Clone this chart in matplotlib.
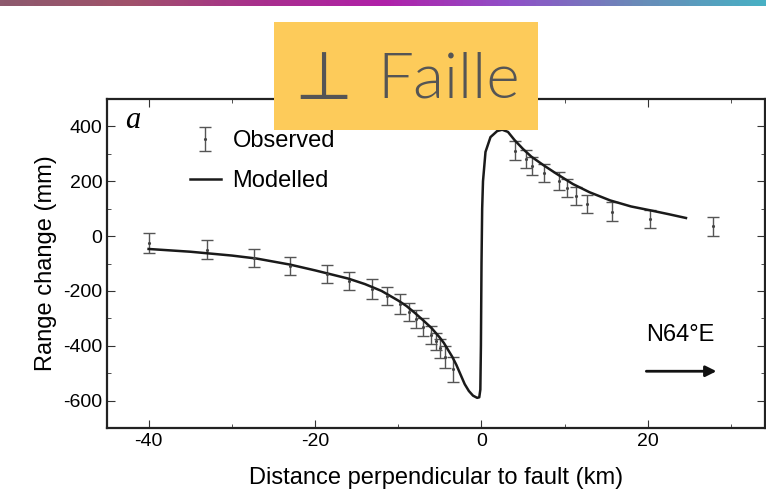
import numpy as np
import matplotlib
matplotlib.use("Agg")
import matplotlib.pyplot as plt
from matplotlib.patches import Rectangle
from matplotlib.colors import LinearSegmentedColormap
from matplotlib.ticker import MultipleLocator

plt.rcParams['font.family'] = ['Liberation Sans', 'DejaVu Sans']
plt.rcParams['axes.unicode_minus'] = False

obs_x = [-40, -33, -27.3, -23, -18.6, -15.9, -13.1, -11.3, -9.8, -8.7, -7.9, -7.0,
         -6.1, -5.5, -5.0, -4.4, -3.4,
         4.1, 5.4, 6.1, 7.5, 9.3, 10.3, 11.4, 12.7, 15.7, 20.3, 27.9]
obs_y = [-25, -50, -80, -110, -139, -164, -193, -219, -248, -277, -303, -332,
         -360, -384, -410, -440, -486,
         312, 281, 255, 230, 201, 175, 146, 117, 89, 62, 36]
obs_err = [35, 35, 33, 33, 33, 33, 35, 33, 35, 33, 33, 33,
           32, 32, 35, 40, 45,
           35, 33, 33, 33, 33, 33, 33, 33, 35, 33, 35]

mod_x = [-40, -35, -30, -27, -23, -20, -18, -16, -14, -12, -10, -9, -8, -7, -6,
         -5, -4.5, -4, -3.5, -3, -2.5, -2, -1.5, -1, -0.5, -0.25, -0.12, -0.05,
         0.02, 0.1, 0.2, 0.5, 1.1, 1.9, 2.5, 3.2, 4, 5, 6, 7.5, 9, 11, 13, 15.5,
         18, 20.3, 22.5, 24.6]
mod_y = [-47, -57, -71, -82, -104, -125, -140, -155, -175, -200, -235, -255, -280,
         -307, -335, -370, -390, -415, -440, -470, -505, -540, -565, -582, -590,
         -588, -560, -400, -100, 100, 200, 307, 361, 383, 388, 380, 350, 318, 290,
         258, 228, 190, 160, 130, 108, 94, 80, 66]

fig = plt.figure(figsize=(7.66, 4.97), dpi=100)
W, H = 766, 497

# colour strip along the top of the slide
cmap = LinearSegmentedColormap.from_list('band', ['#8d5a6e', '#a0526a', '#a8308c', '#b020a8',
                                                  '#9050c8', '#6a8ab8', '#48b0c4'])
band = fig.add_axes([0, 1 - 6 / H, 1, 6 / H])
band.imshow(np.linspace(0, 1, 200)[None, :], aspect='auto', cmap=cmap)
band.axis('off')

ax = fig.add_axes([107 / W, 1 - 428 / H, (765 - 107) / W, (428 - 99) / H])
eb = ax.errorbar(obs_x, obs_y, yerr=obs_err, fmt='.', ms=2.5, color='#444444', ecolor='#555555',
                 elinewidth=1, capsize=4, capthick=1, label='Observed')
ln, = ax.plot(mod_x, mod_y, color='#1a1a1a', lw=1.8, label='Modelled')

ax.set_xlim(-45, 34.1)
ax.set_ylim(-700, 500)
ax.xaxis.set_major_locator(MultipleLocator(20))
ax.xaxis.set_minor_locator(MultipleLocator(10))
ax.yaxis.set_major_locator(MultipleLocator(200))
ax.yaxis.set_minor_locator(MultipleLocator(100))
ax.tick_params(which='both', direction='in', top=True, right=True, labelsize=14, color='#333333')
ax.tick_params(which='major', length=6)
ax.tick_params(which='minor', length=3)
for s in ax.spines.values():
    s.set_linewidth(1.6)
    s.set_color('#222222')
ax.set_yticks([-600, -400, -200, 0, 200, 400])
ax.set_xticks([-40, -20, 0, 20])

ax.set_ylabel('Range change (mm)', fontsize=17, labelpad=4)
ax.set_xlabel('Distance perpendicular to fault (km)', fontsize=17, labelpad=12)

ax.text(0.027, 0.935, 'a', transform=ax.transAxes, fontsize=22, style='italic',
        family='Liberation Serif', ha='left', va='center')

ax.legend(handles=[eb, ln], labels=['Observed', 'Modelled'], loc='upper left',
          bbox_to_anchor=(190 / W, 1 - 130 / H), bbox_transform=fig.transFigure,
          frameon=False, fontsize=17, handlelength=1.3, handletextpad=0.5, borderpad=0,
          borderaxespad=0, labelspacing=0.78)

ax.text(23.9, -360, 'N64°E', fontsize=17, ha='center', va='center')
ax.annotate('', xy=(28.6, -493), xytext=(19.5, -493),
            arrowprops=dict(arrowstyle='-|>', color='#111111', lw=2, mutation_scale=16))

# slide title box
fig.patches.append(Rectangle((274 / W, 1 - 130 / H), (538 - 274) / W, (130 - 22) / H,
                             transform=fig.transFigure, facecolor='#fdcb5a', edgecolor='none',
                             zorder=5))
fig.text(323 / W, 1 - 99 / H, '⊥', fontsize=48, color='#555555',
         family=['DejaVu Sans', 'Noto Sans CJK SC'], ha='center', va='baseline', zorder=6)
fig.text(377 / W, 1 - 98 / H, 'Faille', fontsize=46, color='#555555', weight=300,
         family=['Lato', 'DejaVu Sans'], ha='left', va='baseline', zorder=6)

fig.savefig('out.png', dpi=100)
